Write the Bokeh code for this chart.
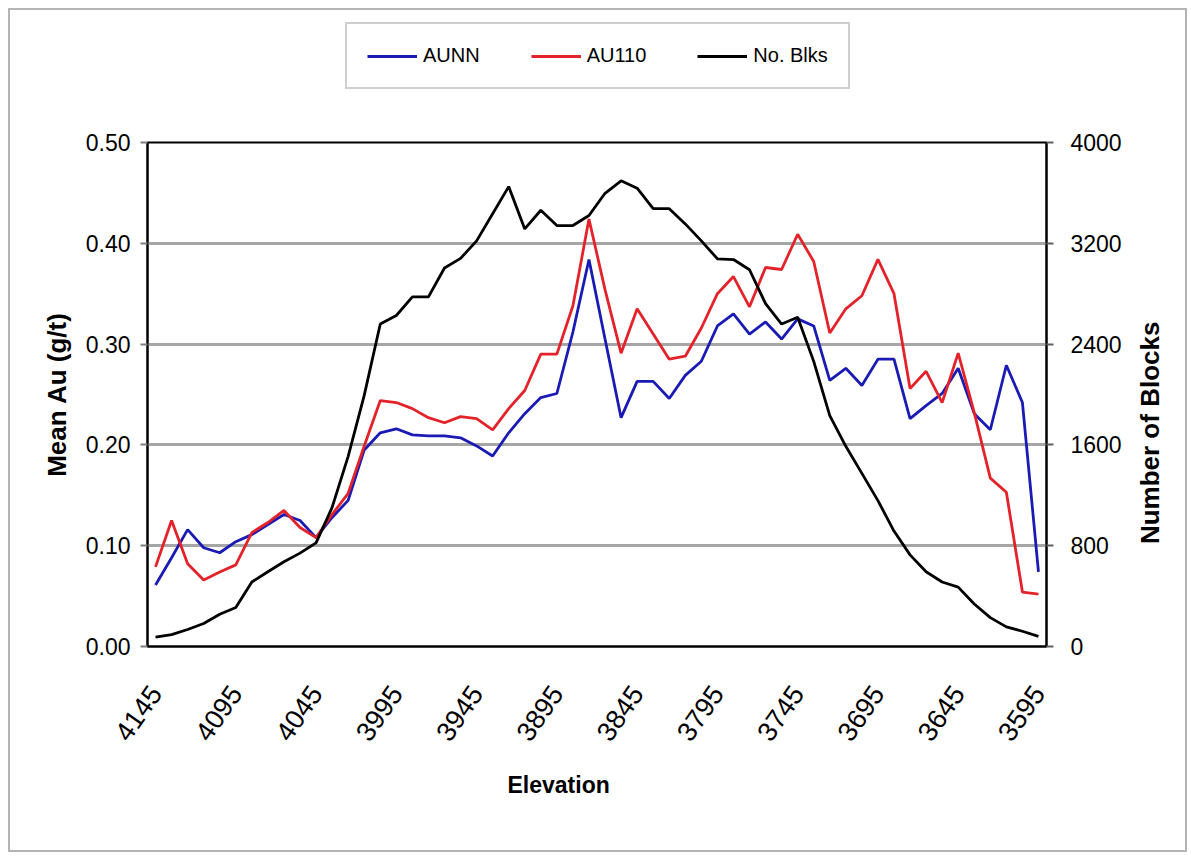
import math
from bokeh.plotting import figure
from bokeh.layouts import column
from bokeh.models import (Range1d, LinearAxis, Legend, LegendItem, FixedTicker,
                          NumeralTickFormatter, Title)
from bokeh.embed import file_html
from bokeh.resources import INLINE

# ---------------- data ----------------
elevation = [4145, 4135, 4125, 4115, 4105, 4095, 4085, 4075, 4065, 4055,
             4045, 4035, 4025, 4015, 4005, 3995, 3985, 3975, 3965, 3955,
             3945, 3935, 3925, 3915, 3905, 3895, 3885, 3875, 3865, 3855,
             3845, 3835, 3825, 3815, 3805, 3795, 3785, 3775, 3765, 3755,
             3745, 3735, 3725, 3715, 3705, 3695, 3685, 3675, 3665, 3655,
             3645, 3635, 3625, 3615, 3605, 3595]

aunn = [0.061, 0.088, 0.116, 0.098, 0.093, 0.104, 0.111, 0.121, 0.131, 0.125,
        0.108, 0.128, 0.145, 0.195, 0.212, 0.216, 0.210, 0.209, 0.209, 0.207,
        0.199, 0.189, 0.212, 0.231, 0.247, 0.251, 0.312, 0.384, 0.305, 0.227,
        0.263, 0.263, 0.246, 0.269, 0.283, 0.318, 0.330, 0.310, 0.322, 0.305,
        0.325, 0.318, 0.264, 0.276, 0.259, 0.285, 0.285, 0.226, 0.239, 0.251,
        0.276, 0.231, 0.215, 0.279, 0.242, 0.074]

au110 = [0.079, 0.125, 0.082, 0.066, 0.074, 0.081, 0.113, 0.123, 0.135, 0.118,
         0.108, 0.131, 0.152, 0.199, 0.244, 0.242, 0.236, 0.227, 0.222, 0.228,
         0.226, 0.215, 0.236, 0.254, 0.290, 0.290, 0.338, 0.424, 0.354, 0.291,
         0.335, 0.310, 0.285, 0.288, 0.316, 0.350, 0.367, 0.337, 0.376, 0.374,
         0.409, 0.382, 0.311, 0.335, 0.348, 0.384, 0.350, 0.256, 0.273, 0.242,
         0.291, 0.232, 0.167, 0.153, 0.054, 0.052]

no_blks = [75, 94, 135, 183, 256, 310, 512, 593, 673, 741,
           822, 1104, 1509, 1993, 2559, 2627, 2775, 2775, 3004, 3080,
           3219, 3435, 3650, 3314, 3462, 3341, 3341, 3421, 3597, 3696,
           3637, 3475, 3475, 3354, 3219, 3077, 3071, 2990, 2721, 2559,
           2613, 2263, 1832, 1589, 1374, 1158, 916, 727, 593, 512,
           471, 337, 229, 156, 121, 81]

series_names = ["AUNN", "AU110", "No. Blks"]
x_ticks = [4145, 4095, 4045, 3995, 3945, 3895, 3845, 3795, 3745, 3695, 3645, 3595]
left_ticks = [0.0, 0.1, 0.2, 0.3, 0.4, 0.5]
right_ticks = [0, 800, 1600, 2400, 3200, 4000]
right_title = "Number of Blocks"

FONT = "Liberation Sans"
BLUE = "#1a1ab4"
RED = "#e4222a"
BLACK = "#000000"

# ---------------- main chart ----------------
p = figure(width=1175, height=722, output_backend="svg", toolbar_location=None,
           title=None,
           x_range=Range1d(4150, 3590), y_range=Range1d(0, 0.5),
           min_border_left=137, min_border_right=139,
           min_border_top=14, min_border_bottom=204)
p.extra_y_ranges = {"blocks": Range1d(0, 4000)}

p.outline_line_color = "black"
p.outline_line_width = 2
p.background_fill_color = "white"
p.border_fill_color = "white"

p.xgrid.visible = False
p.ygrid.ticker = FixedTicker(ticks=left_ticks)
p.ygrid.grid_line_color = "#a6a6a6"
p.ygrid.grid_line_width = 3

xa = p.xaxis[0]
xa.ticker = FixedTicker(ticks=x_ticks)
xa.major_label_orientation = 0.96
xa.major_label_text_font = FONT
xa.major_label_text_font_size = "27px"
xa.major_label_text_color = "black"
xa.major_tick_line_color = None
xa.minor_tick_line_color = None
xa.major_label_standoff = 36
xa.axis_line_color = "black"
xa.axis_line_width = 2

ya = p.yaxis[0]
ya.ticker = FixedTicker(ticks=left_ticks)
ya.formatter = NumeralTickFormatter(format="0.00")
ya.major_label_text_font = FONT
ya.major_label_text_font_size = "23px"
ya.major_label_text_color = "black"
ya.major_tick_out = 7
ya.major_tick_in = 0
ya.major_tick_line_color = "#808080"
ya.major_tick_line_width = 2
ya.minor_tick_line_color = None
ya.major_label_standoff = 10
ya.axis_line_color = "black"
ya.axis_line_width = 2
ya.axis_label = "Mean Au (g/t)"
ya.axis_label_text_font = FONT
ya.axis_label_text_font_size = "26px"
ya.axis_label_text_font_style = "bold"
ya.axis_label_text_color = "black"
ya.axis_label_standoff = 11

ra = LinearAxis(y_range_name="blocks", ticker=FixedTicker(ticks=right_ticks))
ra.major_label_text_font = FONT
ra.major_label_text_font_size = "23px"
ra.major_label_text_color = "black"
ra.major_tick_out = 7
ra.major_tick_in = 0
ra.major_tick_line_color = "#606060"
ra.major_tick_line_width = 2
ra.minor_tick_line_color = None
ra.major_label_standoff = 17
ra.axis_line_color = "black"
ra.axis_line_width = 2
p.add_layout(ra, "right")

# right-hand axis title, drawn as a rotated label of a bare axis so that it
# reads bottom-to-top like the reference
title_anchor = 0.1016
rt = LinearAxis(ticker=FixedTicker(ticks=[title_anchor]),
                major_label_overrides={title_anchor: right_title})
rt.major_label_orientation = math.pi / 2
rt.major_label_text_font = FONT
rt.major_label_text_font_size = "26px"
rt.major_label_text_font_style = "bold"
rt.major_label_text_color = "black"
rt.major_tick_line_color = None
rt.minor_tick_line_color = None
rt.axis_line_color = None
rt.major_label_standoff = 20
p.add_layout(rt, "right")

p.line(elevation, aunn, line_color=BLUE, line_width=2.8)
p.line(elevation, au110, line_color=RED, line_width=2.8)
p.line(elevation, no_blks, line_color=BLACK, line_width=2.8, y_range_name="blocks")

p.add_layout(Title(text="Elevation", align="left", offset=360, standoff=37,
                   text_font=FONT, text_font_size="23px", text_font_style="bold",
                   text_color="black"), "below")

# ---------------- legend strip above the chart ----------------
lg = figure(width=1175, height=118, output_backend="svg", toolbar_location=None,
            title=None, x_axis_location=None, y_axis_location=None,
            x_range=Range1d(0, 1), y_range=Range1d(0, 1),
            min_border_left=0, min_border_right=0, min_border_top=0, min_border_bottom=0)
lg.outline_line_color = None
lg.xgrid.visible = False
lg.ygrid.visible = False
lg.background_fill_color = "white"
lg.border_fill_color = "white"

items = []
for name, ys, col in zip(series_names, [aunn, au110, no_blks], [BLUE, RED, BLACK]):
    # same series, outside this strip's ranges: only its legend swatch shows
    r = lg.line(elevation, ys, line_color=col, line_width=2.8)
    items.append(LegendItem(label=name, renderers=[r]))

legend = Legend(items=items, orientation="horizontal", location=(198, 39))
legend.label_text_font = FONT
legend.label_text_font_size = "20px"
legend.label_text_color = "black"
legend.glyph_width = 50
legend.glyph_height = 22
legend.label_height = 22
legend.label_standoff = 6
legend.spacing = 51
legend.padding = 20
legend.border_line_color = "#a0a0a0"
legend.border_line_width = 2
legend.background_fill_color = "white"
legend.background_fill_alpha = 1.0
lg.add_layout(legend, "center")

layout = column(lg, p, spacing=0, margin=(8, 0, 0, 8),
                styles={"border": "2px solid #b4b4b4", "background": "white"})

open("out.html", "w").write(file_html(layout, INLINE))
